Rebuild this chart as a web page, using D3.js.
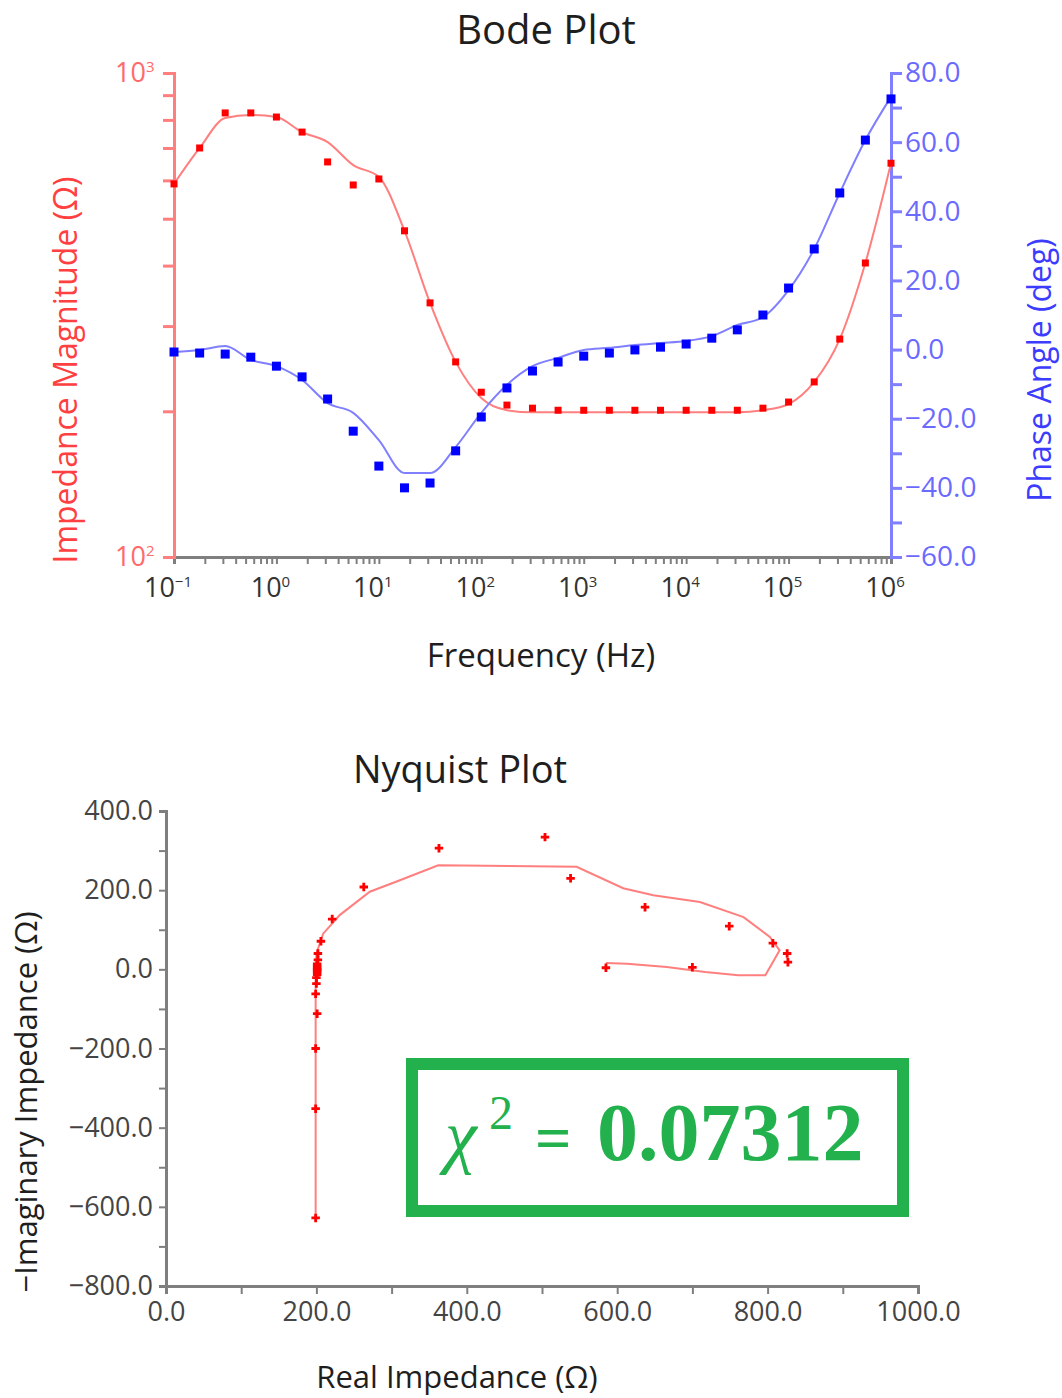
<!DOCTYPE html>
<html>
<head>
<meta charset="utf-8">
<script src="https://cdn.jsdelivr.net/npm/d3@7"></script>
<style>
body { margin: 0; background: #fff; }
svg { display: block; font-family: "Open Sans", sans-serif; }
</style>
</head>
<body>
<svg width="1062" height="1398"></svg>
<script>
// ---- Bode data (4 points per decade, 0.1 Hz .. 1 MHz)
var freq = [0.1, 0.178, 0.316, 0.562, 1, 1.78, 3.16, 5.62, 10, 17.8, 31.6, 56.2,
            100, 178, 316, 562, 1000, 1780, 3160, 5620, 1e4, 1.78e4, 3.16e4, 5.62e4,
            1e5, 1.78e5, 3.16e5, 5.62e5, 1e6];
var magData = [590, 700, 827, 827, 811, 755, 655, 587, 604, 472, 335, 253, 219, 206, 203,
               201, 201, 201, 201, 201, 201, 201, 201, 203, 209, 230, 282, 405, 651];
var phaseData = [-0.7, -1.0, -1.3, -2.2, -4.8, -7.9, -14.3, -23.6, -33.7, -40.0, -38.6, -29.3,
                 -19.5, -11.1, -6.2, -3.6, -1.9, -1.0, -0.1, 0.7, 1.6, 3.3, 5.7, 10.0, 17.8,
                 29.1, 45.3, 60.6, 72.5];
// fitted curves
var magFit = [590, 700, 807, 819, 811, 755, 720, 645, 610, 472, 335, 253, 213, 201, 199,
              199, 199, 199, 199, 199, 199, 199, 199, 201, 207, 230, 282, 405, 651];
var phaseFit = [-0.7, -0.1, 1.0, -3.0, -4.8, -8.8, -15.5, -18.3, -26.2, -35.7, -35.7, -28.2,
                -18.3, -10.2, -4.8, -2.4, -0.1, 0.5, 1.3, 1.9, 2.5, 3.9, 7.1, 9.4, 17.2,
                29.1, 45.3, 60.6, 73.1];

// ---- Nyquist data (real, -imag) in ohm
var nyqRe = [585, 700, 827, 826, 807, 749, 637, 538, 504, 363, 263, 221, 206, 202, 202,
             201, 201, 201, 201, 201, 201, 201, 200, 200, 199, 201, 199, 199, 199];
var nyqIm = [4, 5, 18, 40, 66, 109, 157, 230, 334, 306, 208, 127, 71, 40, 24,
             14, 8, 4, 0, -3, -7, -13, -21, -36, -62, -112, -200, -352, -628];
var nyqFitRe = [585, 613, 666, 717, 761, 797, 816, 803, 768, 710, 648, 608, 546, 362,
                311, 271, 231, 209, 200, 199, 199, 199, 199, 199];
var nyqFitIm = [16, 14, 6, -7, -15, -15, 48, 82, 132, 170, 187, 205, 259, 263,
                225, 196, 137, 90, 40, 0, -100, -200, -400, -630];

// ---- ticks / labels
var decadeExp = ["\u22121", "0", "1", "2", "3", "4", "5", "6"];
var decades = [0.1, 1, 10, 100, 1e3, 1e4, 1e5, 1e6];
var magLabels = [{v: 100, e: "2"}, {v: 1000, e: "3"}];
var phaseTicks = d3.range(-60, 81, 10);
var nyqXTicks = d3.range(0, 1001, 100);
var nyqYTicks = d3.range(-800, 401, 100);
var chiText = "0.07312";

var svg = d3.select("svg");
svg.append("rect").attr("width", 1062).attr("height", 1398).attr("fill", "#fff");

var red = "#ff0000", redLine = "#ff7f7f", blue = "#0000ff", blueLine = "#7f7fff",
    grey = "#7f7f7f", txt = "#1e1e1e";

function fmt(v) { return (v < 0 ? "\u2212" : "") + Math.abs(v).toFixed(1); }

// ================= Bode plot =================
var x = d3.scaleLog().domain([0.1, 1e6]).range([174, 891]),
    yMag = d3.scaleLog().domain([100, 1000]).range([557, 73]),
    yPh = d3.scaleLinear().domain([-60, 80]).range([557, 73]);

var bode = svg.append("g").attr("class", "bode");

bode.append("text").attr("x", 546).attr("y", 44).attr("text-anchor", "middle")
    .attr("font-size", 40).attr("fill", txt).text("Bode Plot");

// bottom axis
var gx = bode.append("g").attr("transform", "translate(0,557)")
    .call(d3.axisBottom(x).tickValues(x.ticks()).tickSize(7).tickFormat(""));
gx.select(".domain").attr("stroke", grey).attr("stroke-width", 3);
gx.selectAll(".tick line").attr("stroke", grey).attr("stroke-width", 2);

var dl = bode.append("g").selectAll("text").data(decades).enter().append("text")
    .attr("x", function(d) { return x(d) - 6; })
    .attr("y", 597)
    .attr("text-anchor", "middle")
    .attr("font-size", 27)
    .attr("fill", "#333");
dl.append("tspan").text("10");
dl.append("tspan").attr("dy", -10).attr("font-size", 15)
    .text(function(d, i) { return decadeExp[i]; });

bode.append("text").attr("x", 541).attr("y", 667).attr("text-anchor", "middle")
    .attr("font-size", 33).attr("fill", txt).text("Frequency (Hz)");

// left axis (magnitude)
var gl = bode.append("g").attr("transform", "translate(174,0)")
    .call(d3.axisLeft(yMag).tickValues(yMag.ticks()).tickSize(11).tickFormat(""));
gl.select(".domain").attr("stroke", redLine).attr("stroke-width", 3);
gl.selectAll(".tick line").attr("stroke", redLine).attr("stroke-width", 3);

var ml = bode.append("g").selectAll("text").data(magLabels).enter().append("text")
    .attr("x", 115).attr("y", function(d) { return yMag(d.v) + 9; })
    .attr("font-size", 27).attr("fill", "#ff6a6a");
ml.append("tspan").text("10");
ml.append("tspan").attr("dy", -10).attr("font-size", 15).text(function(d) { return d.e; });

bode.append("text")
    .attr("transform", "translate(77,370) rotate(-90)")
    .attr("text-anchor", "middle").attr("font-size", 32).attr("fill", "#ff4040")
    .text("Impedance Magnitude (\u03a9)");

// right axis (phase)
var gr = bode.append("g").attr("transform", "translate(891,0)")
    .call(d3.axisRight(yPh).tickValues(phaseTicks).tickSize(11)
        .tickFormat(function(d) { return d % 20 === 0 ? fmt(d) : ""; }));
gr.select(".domain").attr("stroke", blueLine).attr("stroke-width", 3);
gr.selectAll(".tick line").attr("stroke", blueLine).attr("stroke-width", 3);
gr.selectAll(".tick text").attr("x", 14).attr("font-size", 28)
    .attr("font-family", "Open Sans").attr("fill", "#6a6aff");

bode.append("text")
    .attr("transform", "translate(1051,370) rotate(-90)")
    .attr("text-anchor", "middle").attr("font-size", 32).attr("fill", "#3c3cff")
    .text("Phase Angle (deg)");

// fit lines
var magLine = d3.line().curve(d3.curveMonotoneX)
    .x(function(d, i) { return x(freq[i]); })
    .y(function(d) { return yMag(d); });
var phLine = d3.line().curve(d3.curveMonotoneX)
    .x(function(d, i) { return x(freq[i]); })
    .y(function(d) { return yPh(d); });

bode.append("path").datum(magFit).attr("d", magLine)
    .attr("fill", "none").attr("stroke", redLine).attr("stroke-width", 2);
bode.append("path").datum(phaseFit).attr("d", phLine)
    .attr("fill", "none").attr("stroke", blueLine).attr("stroke-width", 2);

// markers
bode.append("g").selectAll("rect").data(phaseData).enter().append("rect")
    .attr("x", function(d, i) { return x(freq[i]) - 4.5; })
    .attr("y", function(d) { return yPh(d) - 4.5; })
    .attr("width", 9).attr("height", 9).attr("fill", blue);
bode.append("g").selectAll("rect").data(magData).enter().append("rect")
    .attr("x", function(d, i) { return x(freq[i]) - 3.5; })
    .attr("y", function(d) { return yMag(d) - 3.5; })
    .attr("width", 7).attr("height", 7).attr("fill", red);

// ================= Nyquist plot =================
var xN = d3.scaleLinear().domain([0, 1000]).range([166, 918]),
    yN = d3.scaleLinear().domain([-800, 400]).range([1286, 811]);

var nyq = svg.append("g").attr("class", "nyquist");

nyq.append("text").attr("x", 460).attr("y", 783).attr("text-anchor", "middle")
    .attr("font-size", 38).attr("fill", txt).text("Nyquist Plot");

var nx = nyq.append("g").attr("transform", "translate(0,1286)")
    .call(d3.axisBottom(xN).tickValues(nyqXTicks).tickSize(8)
        .tickFormat(function(d) { return d % 200 === 0 ? fmt(d) : ""; }));
var ny = nyq.append("g").attr("transform", "translate(166,0)")
    .call(d3.axisLeft(yN).tickValues(nyqYTicks).tickSize(7)
        .tickFormat(function(d) { return d % 200 === 0 ? fmt(d) : ""; }));
[nx, ny].forEach(function(g) {
    g.select(".domain").attr("stroke", grey).attr("stroke-width", 3);
    g.selectAll(".tick line").attr("stroke", grey).attr("stroke-width", 2);
    g.selectAll(".tick text").attr("font-size", 27).attr("font-family", "Open Sans")
        .attr("fill", "#444");
});
nx.selectAll(".tick text").attr("y", 16);
ny.selectAll(".tick text").attr("x", -13);

nyq.append("text")
    .attr("transform", "translate(37,1102) rotate(-90)")
    .attr("text-anchor", "middle").attr("font-size", 31).attr("fill", txt)
    .text("\u2212Imaginary Impedance (\u03a9)");
nyq.append("text").attr("x", 457).attr("y", 1388).attr("text-anchor", "middle")
    .attr("font-size", 31).attr("fill", txt).text("Real Impedance (\u03a9)");

var nyqLine = d3.line()
    .x(function(d, i) { return xN(nyqFitRe[i]); })
    .y(function(d) { return yN(d); });
nyq.append("path").datum(nyqFitIm).attr("d", nyqLine)
    .attr("fill", "none").attr("stroke", redLine).attr("stroke-width", 2);

nyq.append("g").selectAll("path").data(nyqIm).enter().append("path")
    .attr("transform", function(d, i) { return "translate(" + xN(nyqRe[i]) + "," + yN(d) + ")"; })
    .attr("d", d3.symbol().type(d3.symbolCross).size(40))
    .attr("fill", red);

// chi-square box
var box = svg.append("g");
box.append("rect").attr("x", 412).attr("y", 1064).attr("width", 491).attr("height", 147)
    .attr("fill", "#fff").attr("stroke", "#22b14c").attr("stroke-width", 12);
box.append("text").attr("x", 445).attr("y", 1160)
    .attr("font-family", "Liberation Serif").attr("font-style", "italic")
    .attr("font-size", 72).attr("fill", "#22b14c").text("\u03c7");
box.append("text").attr("x", 489).attr("y", 1129)
    .attr("font-family", "Liberation Serif").attr("font-size", 48)
    .attr("fill", "#22b14c").text("2");
box.append("text").attr("x", 535).attr("y", 1160)
    .attr("font-family", "Liberation Serif").attr("font-weight", "bold")
    .attr("font-size", 64).attr("fill", "#22b14c").text("=");
box.append("text").attr("x", 597).attr("y", 1160)
    .attr("font-family", "Liberation Serif").attr("font-weight", "bold")
    .attr("font-size", 82).attr("fill", "#22b14c").text(chiText);
</script>
</body>
</html>
